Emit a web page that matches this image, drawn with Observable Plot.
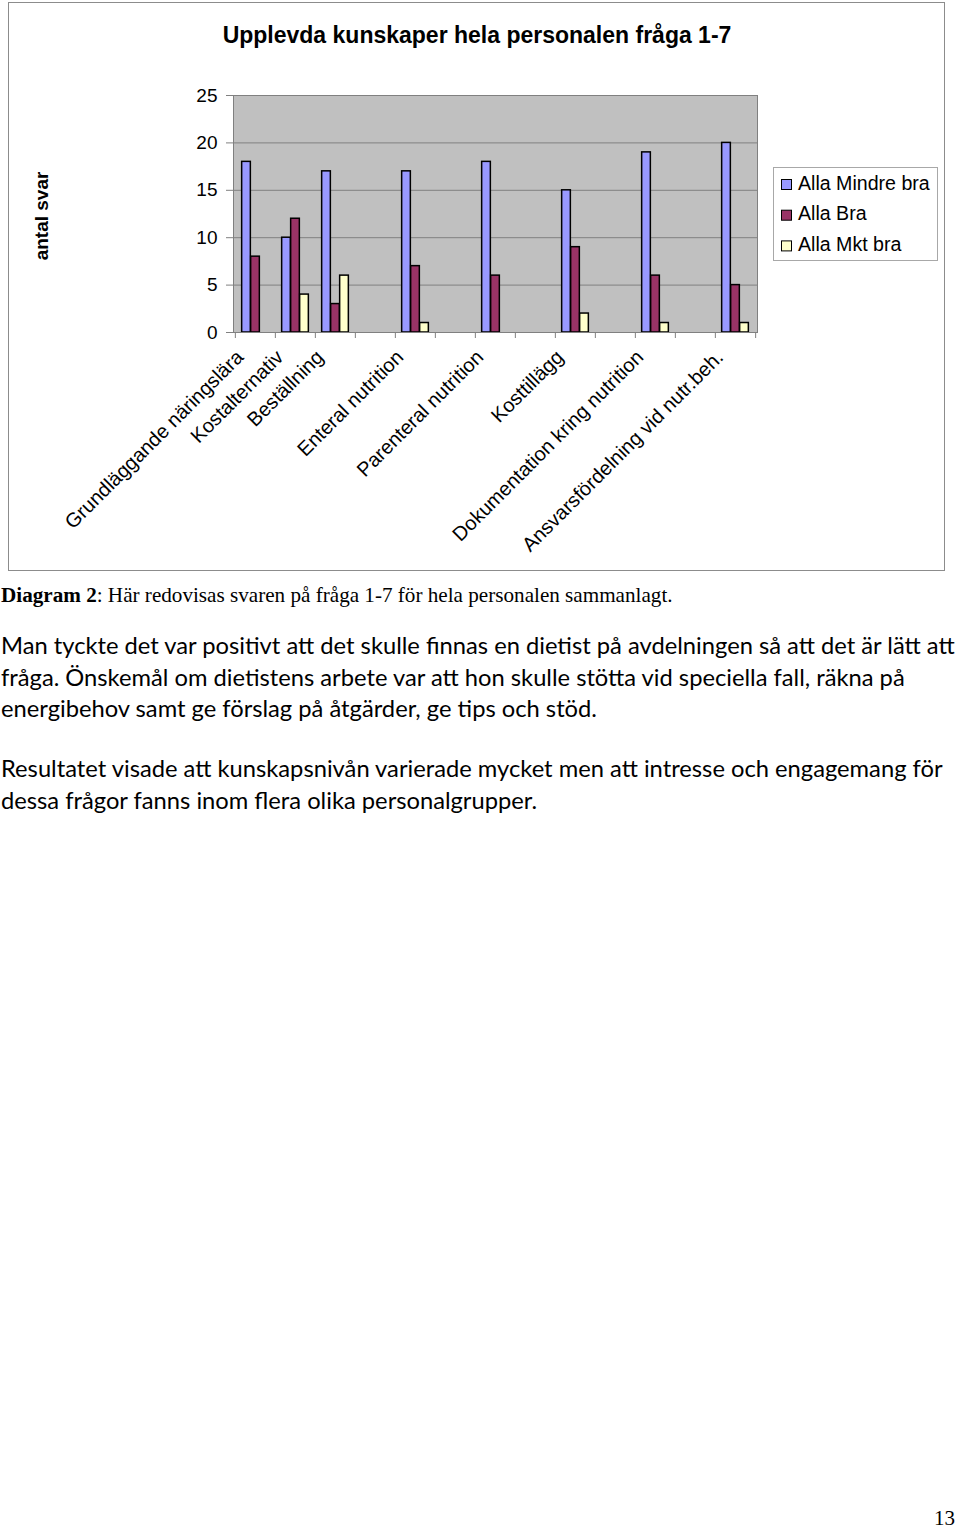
<!DOCTYPE html>
<html><head><meta charset="utf-8">
<script src="https://cdn.jsdelivr.net/npm/d3@7"></script>
<script src="https://cdn.jsdelivr.net/npm/@observablehq/plot@0.6"></script>
<style>
html,body{margin:0;padding:0;background:#fff;}
#page{position:relative;width:960px;height:1529px;overflow:hidden;background:#fff;}
#chartBorder{position:absolute;left:8px;top:2px;width:935px;height:567px;border:1px solid #8c8c8c;}
#chart{position:absolute;left:0;top:0;}
#overlay{position:absolute;left:0;top:0;}
</style></head>
<body>
<div id="page"><div id="chartBorder"></div><div id="chart"></div><svg id="overlay" width="960" height="1529"></svg></div>
<script>
// ---- data ----
const categories = ["Grundläggande näringslära","Kostalternativ","Beställning","","Enteral nutrition","","Parenteral nutrition","","Kosttillägg","","Dokumentation kring nutrition","","Ansvarsfördelning vid nutr.beh."];
const mindreBra = [18,10,17,null,17,null,18,null,15,null,19,null,20];
const bra       = [8,12,3,null,7,null,6,null,9,null,6,null,5];
const mktBra    = [0,4,6,null,1,null,0,null,2,null,1,null,1];
const seriesNames = ["Alla Mindre bra","Alla Bra","Alla Mkt bra"];
const seriesColors = ["#9999ff","#993366","#ffffcc"];
const yTicks = [0,5,10,15,20,25];
const chartTitle = "Upplevda kunskaper hela personalen fråga 1-7";
const yTitle = "antal svar";
const captionBold = "Diagram 2";
const captionRest = ": Här redovisas svaren på fråga 1-7 för hela personalen sammanlagt.";
const para1 = ["Man tyckte det var positivt att det skulle finnas en dietist på avdelningen så att det är lätt att",
               "fråga. Önskemål om dietistens arbete var att hon skulle stötta vid speciella fall, räkna på",
               "energibehov samt ge förslag på åtgärder, ge tips och stöd."];
const para2 = ["Resultatet visade att kunskapsnivån varierade mycket men att intresse och engagemang för",
               "dessa frågor fanns inom flera olika personalgrupper."];
const pageNumber = "13";

// ---- chart ----
const seriesValues = [mindreBra, bra, mktBra];
const W = 960, H = 575, mL = 233, mR = 203, mT = 95, mB = 243;
const bw = (W - mL - mR) / categories.length;
const barW = 9, g0 = (bw - 3 * barW) / 2;
const rows = categories.map((c, i) => ({i, c}));

const barMarks = seriesValues.map((vals, k) =>
  Plot.barY(rows.filter(d => vals[d.i] > 0), {
    x: "i", y: d => vals[d.i], fill: seriesColors[k], stroke: "#000", strokeWidth: 1.5,
    insetLeft: g0 + k * barW, insetRight: bw - g0 - (k + 1) * barW
  }));

const plot = Plot.plot({
  width: W, height: H, marginLeft: mL, marginRight: mR, marginTop: mT, marginBottom: mB,
  x: {type: "band", domain: d3.range(categories.length), padding: 0, axis: null},
  y: {domain: [0, 25], axis: null},
  style: {fontFamily: "'Liberation Sans', Arial, sans-serif", fontSize: "19px", background: "transparent", color: "#000", overflow: "visible"},
  marks: [
    Plot.frame({fill: "#c0c0c0"}),
    Plot.gridY(yTicks.filter(v => v > 0), {stroke: "#808080", strokeOpacity: 1}),
    ...barMarks,
    Plot.frame({stroke: "#808080"}),
    Plot.axisY(yTicks, {tickSize: 7, tickPadding: 9, stroke: "#808080", fill: "#000", fontSize: 19, label: null}),
    Plot.ruleX(d3.range(categories.length), {x: d => d, y1: 0, y2: 0, insetBottom: -6, dx: -bw / 2, stroke: "#808080"}),
    Plot.ruleX([categories.length - 1], {x: d => d, y1: 0, y2: 0, insetBottom: -6, dx: bw / 2, stroke: "#808080"}),
    Plot.text(rows, {x: "i", text: "c", frameAnchor: "bottom", rotate: -45, textAnchor: "end", dx: -11, dy: 26, fontSize: 20, fill: "#000"})
  ]
});
document.getElementById("chart").appendChild(plot);

// ---- overlay text ----
const ov = d3.select("#overlay");
const sans = "'Liberation Sans', Arial, sans-serif";
const serif = "'Liberation Serif', 'Times New Roman', serif";
const body = "Lato, 'Open Sans', sans-serif";

ov.append("text").attr("x", 477).attr("y", 43).attr("text-anchor", "middle")
  .attr("font-family", sans).attr("font-weight", "bold").attr("font-size", 23).text(chartTitle);
ov.append("text").attr("transform", "translate(48,216) rotate(-90)").attr("text-anchor", "middle")
  .attr("font-family", sans).attr("font-weight", "bold").attr("font-size", 19).text(yTitle);

const lg = ov.append("g");
lg.append("rect").attr("x", 773.5).attr("y", 167.5).attr("width", 164).attr("height", 93)
  .attr("fill", "#fff").attr("stroke", "#a8a8a8");
seriesNames.forEach((n, k) => {
  lg.append("rect").attr("x", 781.5).attr("y", 179.5 + k * 30.7).attr("width", 10).attr("height", 10)
    .attr("fill", seriesColors[k]).attr("stroke", "#000");
  lg.append("text").attr("x", 798).attr("y", 189.5 + k * 30.7).attr("font-family", sans)
    .attr("font-size", 19.6).text(n);
});

function fitSize(text, family, weight, target) {
  const t = ov.append("text").attr("font-family", family).attr("font-weight", weight).attr("font-size", 100).text(text);
  const w = t.node().getComputedTextLength();
  t.remove();
  return 100 * target / w;
}

// caption
const capSize = (() => {
  const t = ov.append("text").attr("font-family", serif).attr("font-size", 100);
  t.append("tspan").attr("font-weight", "bold").text(captionBold);
  t.append("tspan").text(captionRest);
  const w = t.node().getComputedTextLength(); t.remove();
  return 100 * 672 / w;
})();
const cap = ov.append("text").attr("x", 1).attr("y", 602).attr("font-family", serif).attr("font-size", capSize);
cap.append("tspan").attr("font-weight", "bold").text(captionBold);
cap.append("tspan").text(captionRest);

const bodySize = fitSize(para1[0], body, "normal", 954);
para1.forEach((l, i) => ov.append("text").attr("x", 1).attr("y", 654 + i * 31.5)
  .attr("font-family", body).attr("font-size", bodySize).text(l));
para2.forEach((l, i) => ov.append("text").attr("x", 1).attr("y", 777 + i * 31.5)
  .attr("font-family", body).attr("font-size", bodySize).text(l));

ov.append("text").attr("x", 955).attr("y", 1525).attr("text-anchor", "end")
  .attr("font-family", serif).attr("font-size", 21).text(pageNumber);
</script>
</body></html>
